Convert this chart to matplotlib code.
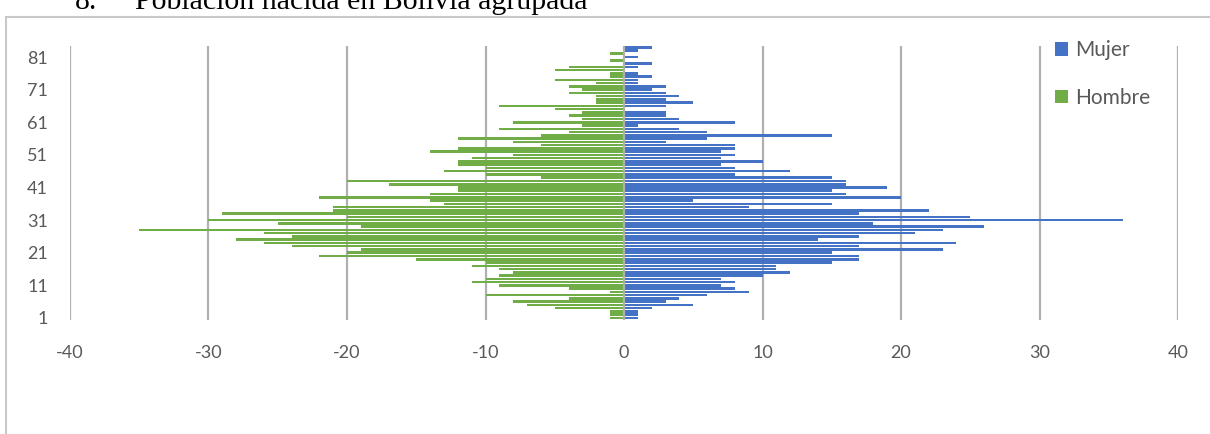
import matplotlib
matplotlib.use("Agg")
import matplotlib.pyplot as plt
from matplotlib.patches import Rectangle

# edades 1..84
edades = list(range(1, 85))

# Mujer, edad 1 -> 84
mujer = [1, 1, 1, 2, 5, 3, 4, 6, 9, 8, 7, 8, 7, 10, 12, 11, 11, 15, 17, 17,
         15, 23, 17, 24, 14, 17, 21, 23, 26, 18, 36, 25, 17, 22, 9, 15, 5, 20, 16, 15,
         19, 16, 16, 15, 8, 12, 8, 7, 10, 7, 8, 7, 8, 8, 3, 6, 15, 6, 4, 1,
         8, 4, 3, 3, 0, 3, 5, 3, 4, 3, 2, 3, 1, 1, 2, 1, 0, 1, 2, 0,
         1, 0, 1, 2]

# Hombre, edad 1 -> 84
hombre = [1, 1, 1, 5, 7, 8, 4, 10, 1, 4, 9, 11, 10, 9, 8, 9, 11, 10, 15, 22,
          20, 19, 24, 26, 28, 24, 26, 35, 19, 25, 30, 20, 29, 21, 21, 13, 14, 22, 14, 12,
          12, 17, 20, 6, 10, 13, 10, 12, 12, 11, 8, 14, 12, 6, 8, 12, 6, 4, 9, 3,
          8, 3, 4, 3, 5, 9, 2, 2, 2, 4, 3, 4, 2, 5, 1, 1, 5, 4, 0, 1,
          0, 1, 0, 0]

yticks = [1, 11, 21, 31, 41, 51, 61, 71, 81]
xticks = [-40, -30, -20, -10, 0, 10, 20, 30, 40]

plt.rcParams['font.family'] = ['Lato', 'DejaVu Sans']
plt.rcParams['axes.unicode_minus'] = False

W, H = 1210, 434
fig = plt.figure(figsize=(W / 100, H / 100), dpi=100)
ax = fig.add_axes([70 / W, 1 - 319.6 / H, (1178 - 70) / W, (319.6 - 45.6) / H])

azul = '#4472C4'
verde = '#70AD47'
ax.barh(edades, mujer, height=0.78, color=azul, label='Mujer', zorder=2)
ax.barh(edades, [-h for h in hombre], height=0.78, color=verde, label='Hombre', zorder=2)

for x in xticks:
    ax.axvline(x, color='#b0b0b0', lw=1.6, zorder=1 if x != 0 else 3)

ax.set_xlim(-40, 40)
ax.set_ylim(0.5, 84.5)
ax.set_xticks(xticks)
ax.set_xticklabels([str(x) for x in xticks])
ax.set_yticks(yticks)
ax.set_yticklabels([str(y) for y in yticks])
ax.tick_params(length=0, labelsize=13, colors='#595959')
ax.tick_params(axis='x', pad=18)
ax.tick_params(axis='y', pad=16)
for s in ax.spines.values():
    s.set_visible(False)

fig.legend(loc='upper left', bbox_to_anchor=(1045 / W, 1 - 30 / H), frameon=False,
           fontsize=15, handlelength=0.6, handleheight=0.6, handletextpad=0.35,
           labelspacing=1.3, borderpad=0, labelcolor='#595959')

# marco del grafico
fig.patches.append(Rectangle((6 / W, -0.2), 1.2, 1.2 - 17 / H, transform=fig.transFigure,
                             fill=False, edgecolor='#c8c8c8', lw=1.5))

# titulo cortado arriba
fig.text(75 / W, 1 - 9 / H, '8.', fontsize=21.5, family='Liberation Serif', va='baseline')
fig.text(135 / W, 1 - 9 / H, 'Población nacida en Bolivia agrupada', fontsize=21.5,
         family='Liberation Serif', va='baseline')

fig.savefig('out.png', dpi=100)
